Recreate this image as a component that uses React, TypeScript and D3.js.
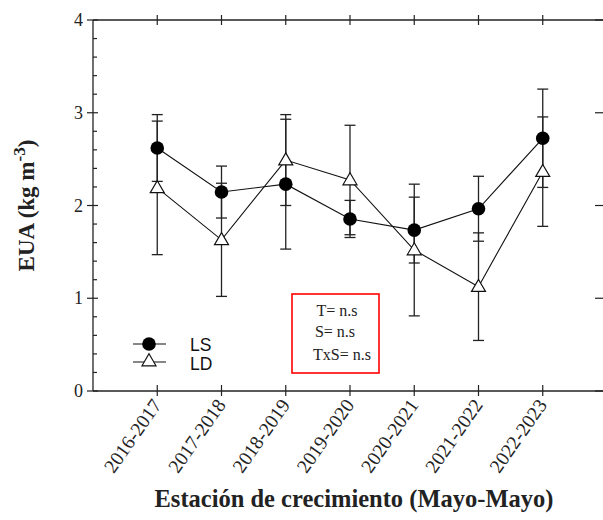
import React from "react";
import * as d3 from "d3";

const categories = ["2016-2017", "2017-2018", "2018-2019", "2019-2020", "2020-2021", "2021-2022", "2022-2023"];
const lsValues = [2.62, 2.145, 2.23, 1.855, 1.735, 1.965, 2.725];
const lsErrors = [0.36, 0.28, 0.70, 0.2, 0.355, 0.35, 0.53];
const ldValues = [2.19, 1.63, 2.49, 2.275, 1.52, 1.125, 2.365];
const ldErrors = [0.72, 0.61, 0.49, 0.59, 0.71, 0.58, 0.59];
const yTicks = [0, 1, 2, 3, 4];
const statLines = ["T= n.s", "S= n.s", "TxS= n.s"];

const W = 603, H = 520;
const left = 93, right = 607, top = 20, bottom = 391;

export default function App() {
  const x = d3.scaleLinear().domain([0, 8]).range([left, right]);
  const y = d3.scaleLinear().domain([0, 4]).range([bottom, top]);
  const minor = d3.range(0, 4.001, 0.2).filter((v) => Math.abs(v - Math.round(v)) > 1e-6);
  const line = d3.line<number>().x((_, i) => x(i + 1)).y((v) => y(v));
  const serif = "'Liberation Serif', 'DejaVu Serif', serif";
  const tri = (cx: number, cy: number) => {
    const s = 14, h = 12;
    return `M${cx},${cy - h * 0.6}L${cx + s / 2},${cy + h * 0.4}L${cx - s / 2},${cy + h * 0.4}Z`;
  };
  const errBars = (vals: number[], errs: number[]) =>
    vals.map((v, i) => {
      const cx = x(i + 1);
      const y1 = y(v + errs[i]), y2 = y(v - errs[i]);
      return (
        <g key={i} stroke="#222" strokeWidth={1.3}>
          <line x1={cx} x2={cx} y1={y1} y2={y2} />
          <line x1={cx - 5.5} x2={cx + 5.5} y1={y1} y2={y1} />
          <line x1={cx - 5.5} x2={cx + 5.5} y1={y2} y2={y2} />
        </g>
      );
    });
  return (
    <svg width={W} height={H} style={{ position: "absolute", left: 0, top: 0, background: "#fff" }}>
      <rect x={0} y={0} width={W} height={H} fill="#fff" />
      {/* frame */}
      <g stroke="#222" strokeWidth={1.3} fill="none">
        <line x1={left} x2={right} y1={top} y2={top} />
        <line x1={left} x2={right} y1={bottom} y2={bottom} />
        <line x1={left} x2={left} y1={top} y2={bottom} />
        <line x1={right - 3} x2={right - 3} y1={top} y2={bottom} />
      </g>
      {/* ticks */}
      <g stroke="#222" strokeWidth={1.2}>
        {yTicks.map((t) => (
          <g key={t}>
            <line x1={left - 6} x2={left + 5} y1={y(t)} y2={y(t)} />
            <line x1={right - 12} x2={right - 3} y1={y(t)} y2={y(t)} />
          </g>
        ))}
        {minor.map((t) => (
          <line key={t} x1={left} x2={left + 4} y1={y(t)} y2={y(t)} />
        ))}
        {categories.map((c, i) => (
          <g key={c}>
            <line x1={x(i + 1)} x2={x(i + 1)} y1={top - 5} y2={top + 5} />
            <line x1={x(i + 1)} x2={x(i + 1)} y1={bottom - 6} y2={bottom + 5} />
          </g>
        ))}
      </g>
      {yTicks.map((t) => (
        <text key={t} x={left - 10} y={y(t) + 6} textAnchor="end" fontFamily={serif} fontSize={18} fill="#222">
          {t}
        </text>
      ))}
      {categories.map((c, i) => (
        <text
          key={c}
          transform={`translate(${x(i + 1) + 5},${bottom + 14}) rotate(-55)`}
          textAnchor="end"
          fontFamily={serif}
          fontSize={19.5}
          fill="#222"
        >
          {c}
        </text>
      ))}
      {/* error bars */}
      {errBars(lsValues, lsErrors)}
      {errBars(ldValues, ldErrors)}
      {/* lines */}
      <path d={line(lsValues) || ""} fill="none" stroke="#111" strokeWidth={1.1} />
      <path d={line(ldValues) || ""} fill="none" stroke="#111" strokeWidth={1.1} />
      {lsValues.map((v, i) => (
        <circle key={i} cx={x(i + 1)} cy={y(v)} r={6.8} fill="#000" />
      ))}
      {ldValues.map((v, i) => (
        <path key={i} d={tri(x(i + 1), y(v))} fill="#fff" stroke="#111" strokeWidth={1.2} />
      ))}
      {/* legend */}
      <g>
        <line x1={133} x2={166} y1={344} y2={344} stroke="#111" strokeWidth={1.2} />
        <circle cx={149} cy={344} r={6.8} fill="#000" />
        <line x1={133} x2={166} y1={362} y2={362} stroke="#111" strokeWidth={1.2} />
        <path d={tri(149, 361)} fill="#fff" stroke="#111" strokeWidth={1.2} />
        <text x={190} y={351} fontFamily="'Liberation Sans', Arial, sans-serif" fontSize={17.5} fill="#111">LS</text>
        <text x={190} y={370} fontFamily="'Liberation Sans', Arial, sans-serif" fontSize={17.5} fill="#111">LD</text>
      </g>
      {/* stats box */}
      <rect x={292} y={294} width={87} height={79} fill="none" stroke="#f00" strokeWidth={1.6} />
      {statLines.map((s, i) => (
        <text key={s} x={[337, 335, 342][i]} y={[316, 337, 360][i]} textAnchor="middle" fontFamily={serif} fontSize={16} fill="#222">
          {s}
        </text>
      ))}
      {/* axis titles */}
      <text
        transform={`translate(34,${(top + bottom) / 2}) rotate(-90)`}
        textAnchor="middle"
        fontFamily={serif}
        fontSize={23}
        fontWeight="bold"
        fill="#222"
      >
        EUA (kg m<tspan dy={-9} fontSize={17}>-3</tspan><tspan dy={9}>)</tspan>
      </text>
      <text x={354} y={507} textAnchor="middle" fontFamily={serif} fontSize={24.5} fontWeight="bold" fill="#222">
        Estación de crecimiento (Mayo-Mayo)
      </text>
    </svg>
  );
}
